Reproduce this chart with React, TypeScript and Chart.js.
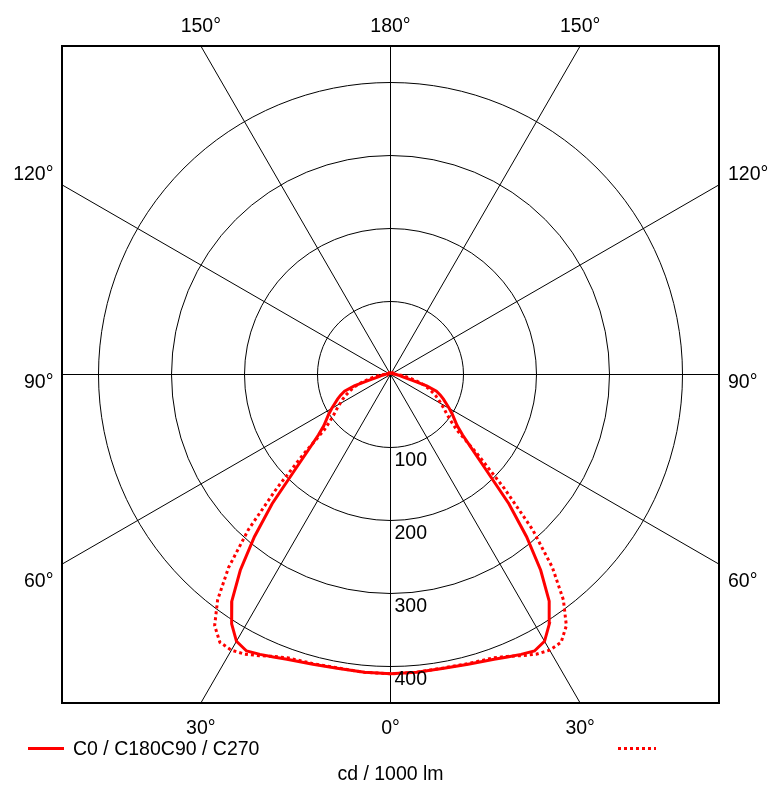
import React, { useEffect, useRef } from 'react';
import { Chart, registerables } from 'chart.js';

Chart.register(...registerables);

// Gamma angles (degrees from nadir) and luminous intensity (cd / 1000 lm)
const gammaAngles = [0, 5, 10, 15, 20, 22.5, 25, 27.5, 30, 32.5, 35, 37.5, 40, 42.5, 45, 47.5, 50, 52.5, 55, 57.5, 60, 62.5, 65, 67.5, 70, 72.5, 75, 77.5, 80, 85, 90, 95, 100, 110, 120, 135, 150, 165, 180];
const c0c180Values = [410, 409.5, 409, 411, 415, 419, 423, 427, 422, 405, 379, 338, 290, 240, 186, 152, 129, 115, 107, 100, 93, 86, 80, 74, 67, 52, 32, 21, 16, 11, 8, 6, 5, 4, 3, 3, 2, 2, 2];
const c90c270Values = [410, 409.5, 408.5, 410, 413, 418, 425, 432, 436, 435, 420, 389, 345, 288, 220, 162, 119, 104, 94, 87, 80, 74, 68, 61, 55, 48, 40, 32, 26, 16, 9, 6, 5, 4, 3, 3, 2, 2, 2];

const ringValues = [100, 200, 300, 400];
const angleLines = [0, 30, 60, 90, 120, 150, 180];
const seriesLabels = ['C0 / C180C90 / C270', ''];
const unitLabel = 'cd / 1000 lm';
const axisMax = 450;

const FONT = '19.5px "Liberation Sans", Arial, sans-serif';

function toPoints(values: number[]) {
  const pts: { x: number; y: number }[] = [];
  for (let i = gammaAngles.length - 1; i >= 0; i--) {
    const a = (gammaAngles[i] * Math.PI) / 180;
    pts.push({ x: -values[i] * Math.sin(a), y: -values[i] * Math.cos(a) });
  }
  for (let i = 1; i < gammaAngles.length; i++) {
    const a = (gammaAngles[i] * Math.PI) / 180;
    pts.push({ x: values[i] * Math.sin(a), y: -values[i] * Math.cos(a) });
  }
  return pts;
}

const gridPlugin = {
  id: 'polarGrid',
  beforeDatasetsDraw(chart: any) {
    const { ctx, chartArea: a, scales } = chart;
    const cx = scales.x.getPixelForValue(0);
    const cy = scales.y.getPixelForValue(0);
    ctx.save();
    ctx.beginPath();
    ctx.rect(a.left, a.top, a.right - a.left, a.bottom - a.top);
    ctx.clip();
    ctx.strokeStyle = '#000';
    ctx.lineWidth = 1;
    ringValues.forEach((v) => {
      const r = scales.x.getPixelForValue(v) - cx;
      ctx.beginPath();
      ctx.arc(cx, cy, r, 0, Math.PI * 2);
      ctx.stroke();
    });
    angleLines.forEach((deg) => {
      const t = (deg * Math.PI) / 180;
      [-1, 1].forEach((s) => {
        ctx.beginPath();
        ctx.moveTo(cx, cy);
        ctx.lineTo(cx + s * Math.sin(t) * 2000, cy + Math.cos(t) * 2000);
        ctx.stroke();
      });
    });
    ctx.restore();
    ctx.save();
    ctx.strokeStyle = '#000';
    ctx.lineWidth = 2;
    ctx.strokeRect(a.left, a.top, a.right - a.left, a.bottom - a.top);
    ctx.restore();
  },
  afterDraw(chart: any) {
    const { ctx, chartArea: a, scales } = chart;
    const cx = scales.x.getPixelForValue(0);
    const cy = scales.y.getPixelForValue(0);
    ctx.save();
    ctx.font = FONT;
    ctx.fillStyle = '#000';
    ctx.textBaseline = 'alphabetic';
    const drawn = new Set<string>();
    angleLines.forEach((deg) => {
      const t = (deg * Math.PI) / 180;
      [-1, 1].forEach((s) => {
        const dx = s * Math.sin(t);
        const dy = Math.cos(t);
        let tt = Infinity;
        let side = '';
        if (dx > 1e-9) { const v = (a.right - cx) / dx; if (v < tt) { tt = v; side = 'right'; } }
        if (dx < -1e-9) { const v = (a.left - cx) / dx; if (v < tt) { tt = v; side = 'left'; } }
        if (dy > 1e-9) { const v = (a.bottom - cy) / dy; if (v < tt) { tt = v; side = 'bottom'; } }
        if (dy < -1e-9) { const v = (a.top - cy) / dy; if (v < tt) { tt = v; side = 'top'; } }
        const px = cx + dx * tt;
        const py = cy + dy * tt;
        const key = side + '|' + deg + '|' + (Math.abs(dx) < 1e-9 ? 0 : s);
        if (drawn.has(key)) return;
        drawn.add(key);
        const text = `${deg}°`;
        if (side === 'top') {
          ctx.textAlign = 'center';
          ctx.fillText(text, px, a.top - 14.5);
        } else if (side === 'bottom') {
          ctx.textAlign = 'center';
          ctx.fillText(text, px, a.bottom + 31);
        } else {
          const k = py < cy ? 1.095 : 1.047;
          const ly = cy + (py - cy) * k + 13.5;
          if (side === 'left') {
            ctx.textAlign = 'right';
            ctx.fillText(text, a.left - 8.5, ly);
          } else {
            ctx.textAlign = 'left';
            ctx.fillText(text, a.right + 9, ly);
          }
        }
      });
    });
    // ring value labels
    ctx.textAlign = 'left';
    ringValues.forEach((v) => {
      const py = scales.y.getPixelForValue(-v);
      ctx.fillText(String(v), cx + 4, py + 18.5);
    });
    // legend
    ctx.strokeStyle = '#ff0000';
    ctx.lineWidth = 3;
    ctx.beginPath();
    ctx.moveTo(28, 748.5);
    ctx.lineTo(64, 748.5);
    ctx.stroke();
    ctx.fillText(seriesLabels[0], 73, 755);
    ctx.setLineDash([3, 3]);
    ctx.beginPath();
    ctx.moveTo(618, 748.5);
    ctx.lineTo(656, 748.5);
    ctx.stroke();
    ctx.setLineDash([]);
    if (seriesLabels[1]) ctx.fillText(seriesLabels[1], 664, 755);
    ctx.textAlign = 'center';
    ctx.fillText(unitLabel, cx, 779.5);
    ctx.restore();
  },
};

export default function App() {
  const ref = useRef<HTMLCanvasElement>(null);
  useEffect(() => {
    if (!ref.current) return;
    const chart = new Chart(ref.current, {
      type: 'scatter',
      data: {
        datasets: [
          {
            label: seriesLabels[0],
            data: toPoints(c0c180Values),
            showLine: true,
            borderColor: '#ff0000',
            backgroundColor: '#ff0000',
            borderWidth: 3,
            pointRadius: 0,
            tension: 0,
          },
          {
            label: seriesLabels[1],
            data: toPoints(c90c270Values),
            showLine: true,
            borderColor: '#ff0000',
            backgroundColor: '#ff0000',
            borderWidth: 3,
            borderDash: [3, 3],
            pointRadius: 0,
            tension: 0,
          },
        ],
      },
      options: {
        animation: false,
        responsive: false,
        layout: { padding: { left: 62, top: 46, right: 54, bottom: 87 } },
        scales: {
          x: { type: 'linear', min: -axisMax, max: axisMax, display: false },
          y: { type: 'linear', min: -axisMax, max: axisMax, display: false },
        },
        plugins: {
          legend: { display: false },
          tooltip: { enabled: false },
        },
      },
      plugins: [gridPlugin],
    });
    return () => chart.destroy();
  }, []);
  return (
    <div style={{ position: 'fixed', left: 0, top: 0, width: 773, height: 790, background: '#fff' }}>
      <canvas ref={ref} width={773} height={790} style={{ display: 'block' }} />
    </div>
  );
}
